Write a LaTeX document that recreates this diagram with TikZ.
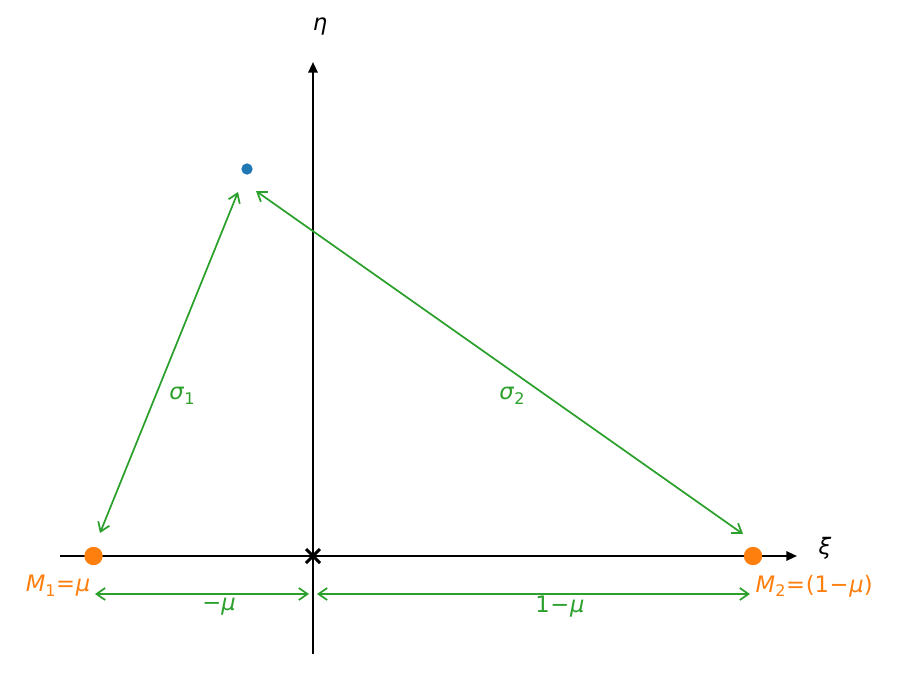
\documentclass[tikz,border=0pt]{standalone}
\usepackage{fontspec}
\setmainfont{DejaVu Sans}
\usetikzlibrary{arrows.meta}
\definecolor{mplorange}{HTML}{FF7F0E}
\definecolor{mplgreen}{HTML}{2CA02C}
\definecolor{mplblue}{HTML}{1F77B4}
\newcommand{\mi}[1]{\textit{#1}}
\newcommand{\opsp}{\hspace{0.03em}}
\newcommand{\sbsc}[1]{\raisebox{-0.2em}{\fontsize{12}{14}\selectfont #1}}
\begin{document}
\begin{tikzpicture}[x=0.75pt,y=-0.75pt,
  axis/.style={black,line width=1.6pt,-{Triangle[length=8pt,width=7pt]}},
  dim/.style={mplgreen,line width=1.3pt,{Straight Barb[length=6.5pt,width=9pt]}-{Straight Barb[length=6.5pt,width=9pt]}},
  lbl/.style={font=\fontsize{17}{20}\selectfont},
  glbl/.style={lbl,text=mplgreen},
  olbl/.style={lbl,text=mplorange},
  mass/.style={circle,fill=mplorange,inner sep=0pt,minimum size=13.8pt},
  body/.style={circle,fill=mplblue,inner sep=0pt,minimum size=8.5pt}]
\useasboundingbox (0,0) rectangle (900,675);
% axes
\coordinate (xs) at (60,556);
\coordinate (xe) at (797,556);
\coordinate (ys) at (313,654);
\coordinate (ye) at (313,62);
\draw[axis] (xs) -- (xe);
\draw[axis] (ys) -- (ye);
\node[lbl] (eta) at (320,27) {\mi{η}};
\node[lbl] (xi) at (825,548) {\mi{ξ}};
% origin cross
\coordinate (O) at (313,556);
\draw[black,line width=2.3pt] (306,549) -- (320,563) (306,563) -- (320,549);
% masses
\node[mass] (m1) at (93.5,556) {};
\node[mass] (m2) at (753,556) {};
\node[body] (p) at (247,169) {};
% sigma arrows
\coordinate (s1a) at (100,533);
\coordinate (s1b) at (238,192);
\coordinate (s2a) at (256,191);
\coordinate (s2b) at (743,534);
\draw[dim] (s1a) -- (s1b);
\draw[dim] (s2a) -- (s2b);
\node[glbl] (sig1) at (182,396) {\mi{σ}\sbsc{1}};
\node[glbl] (sig2) at (512,396) {\mi{σ}\sbsc{2}};
% distance arrows
\coordinate (d1a) at (95,594);
\coordinate (d1b) at (309,594);
\coordinate (d2a) at (317,594);
\coordinate (d2b) at (750,594);
\draw[dim] (d1a) -- (d1b);
\draw[dim] (d2a) -- (d2b);
\node[glbl] (mu1) at (219,607) {−\mi{μ}};
\node[glbl] (mu2) at (560,607) {1\opsp−\opsp\mi{μ}};
% mass labels
\node[olbl,anchor=east] (M1) at (95,586) {\mi{M}\sbsc{1}\opsp=\opsp\mi{μ}};
\node[olbl,anchor=west] (M2) at (751,586) {\mi{M}\sbsc{2}\opsp=\opsp(1\opsp−\opsp\mi{μ})};
\end{tikzpicture}
\end{document}
